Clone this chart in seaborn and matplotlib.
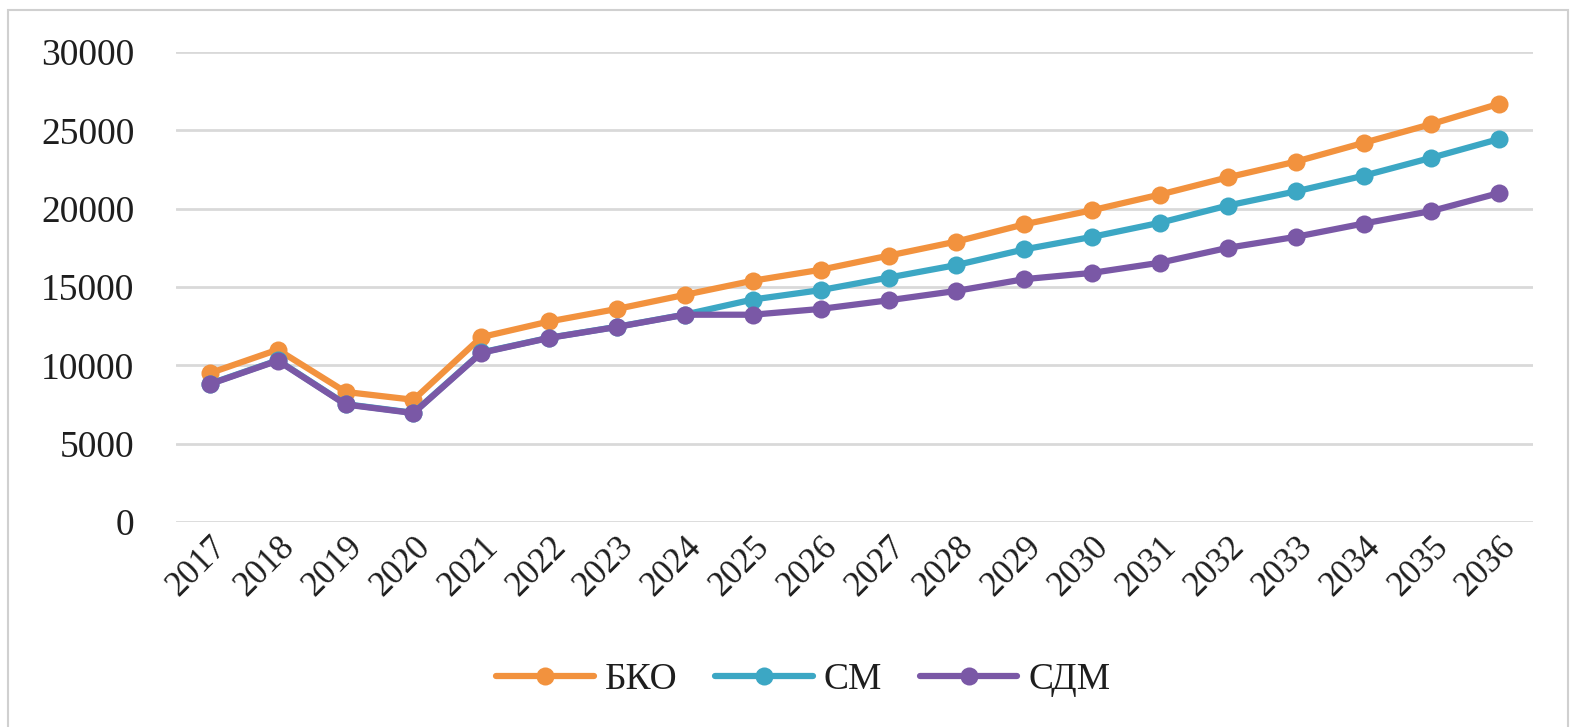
import matplotlib
matplotlib.use("Agg")
import matplotlib.pyplot as plt
import seaborn as sns
import pandas as pd
from matplotlib.patches import Rectangle

years = [str(y) for y in range(2017, 2037)]
bko = [9500, 11000, 8300, 7800, 11800, 12800, 13600, 14500, 15400, 16100,
       17000, 17900, 19000, 19900, 20900, 22000, 23000, 24200, 25400, 26700]
sm = [8820, 10320, 7520, 6970, 10820, 11760, 12460, 13240, 14200, 14800,
      15600, 16400, 17400, 18200, 19100, 20200, 21100, 22100, 23250, 24450]
sdm = [8800, 10300, 7500, 6950, 10800, 11750, 12450, 13230, 13230, 13600,
       14150, 14750, 15500, 15900, 16550, 17500, 18200, 19050, 19850, 21000]
series_names = ["БКО", "СМ", "СДМ"]
colors = ["#F2923E", "#3CA7C4", "#7A58A6"]
y_ticks = [0, 5000, 10000, 15000, 20000, 25000, 30000]

df = pd.DataFrame({
    "year": years * 3,
    "value": bko + sm + sdm,
    "series": [series_names[0]] * len(years) + [series_names[1]] * len(years)
              + [series_names[2]] * len(years),
})

sns.set_theme(style="white")
plt.rcParams["font.family"] = ["Liberation Serif", "DejaVu Serif"]

fig = plt.figure(figsize=(15.71, 7.27), dpi=100)
ax = fig.add_axes([0.112, 0.282, 0.864, 0.6465])

sns.lineplot(data=df, x="year", y="value", hue="series", hue_order=series_names,
             palette=colors, marker="o", markersize=13, markeredgewidth=0,
             linewidth=4.5, sort=False, ax=ax)

ax.set_xlim(-0.5, len(years) - 0.5)
ax.set_ylim(0, 30000)
ax.set_yticks(y_ticks)
ax.set_yticklabels([str(v) for v in y_ticks], fontsize=27, color="#1E1E1E")
ax.set_xticks(range(len(years)))
ax.set_xticklabels(years, rotation=45, ha="right", rotation_mode="anchor",
                   fontsize=25, color="#1E1E1E")
ax.tick_params(axis="y", length=0, pad=30)
ax.tick_params(axis="x", length=0, pad=6)
ax.set_xlabel("")
ax.set_ylabel("")
ax.grid(axis="y", color="#D9D9D9", linewidth=2)
ax.set_axisbelow(True)
for s in ax.spines.values():
    s.set_visible(False)

handles, labels = ax.get_legend_handles_labels()
leg = ax.legend(handles, labels, loc="center", ncol=3, frameon=False,
                fontsize=27, handlelength=2.6, columnspacing=1.0,
                handletextpad=0.3)
leg.set_bbox_to_anchor((0.5 + 18 / 1571, 1 - 680 / 727), transform=fig.transFigure)
for t in leg.get_texts():
    t.set_color("#1E1E1E")

fig.patches.append(Rectangle((8 / 1571, -0.01), 1560 / 1571, 1 - 10 / 727 + 0.01,
                             transform=fig.transFigure, fill=False,
                             edgecolor="#D0D0D0", linewidth=1.5))

fig.savefig("out.png", dpi=100, facecolor="white")
